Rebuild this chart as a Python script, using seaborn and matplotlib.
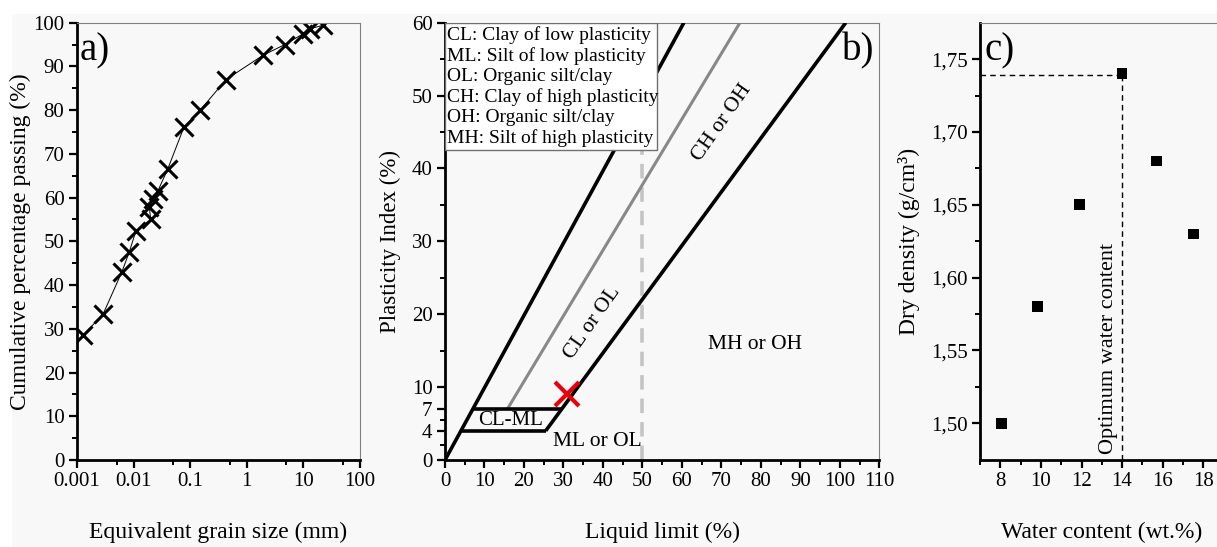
import numpy as np
import pandas as pd
import seaborn as sns
import matplotlib.pyplot as plt
from matplotlib.patches import Rectangle
from matplotlib.ticker import FixedLocator, NullFormatter

sns.set_theme(style='ticks')
plt.rcParams['font.family'] = ['Liberation Serif', 'DejaVu Serif']
plt.rcParams['axes.unicode_minus'] = False
plt.rcParams['text.color'] = 'black'
plt.rcParams['axes.labelcolor'] = 'black'

# a) grain size distribution
grain_size = [0.0013, 0.0029, 0.0062, 0.0084, 0.011, 0.02, 0.019, 0.022, 0.027,
              0.04, 0.078, 0.15, 0.43, 1.96, 4.7, 10, 13, 22]
passing = [28.6, 33.4, 43.0, 47.6, 52.4, 55.0, 57.8, 59.6, 61.6,
           66.5, 76.2, 80.0, 87.0, 92.6, 95.0, 97.5, 98.6, 99.4]

# b) plasticity chart
upper_ll = [0, 60.5]
upper_pi = [0, 60]
u_line_ll = [15.8, 74.7]
u_line_pi = [7, 60]
a_line_ll = [25.5, 101.5]
a_line_pi = [4, 60]
clml_ll = [4, 25.5]
clml_pi = [4, 4]
clml_top_ll = [7, 29.6]
clml_top_pi = [7, 7]
sample_ll = [31]
sample_pi = [9]
legend_lines = ['CL: Clay of low plasticity', 'ML: Silt of low plasticity',
                'OL: Organic silt/clay', 'CH: Clay of high plasticity',
                'OH: Organic silt/clay', 'MH: Silt of high plasticity']
b_yticks = [0, 4, 7, 10, 20, 30, 40, 50, 60]

# c) compaction
water = [8.05, 9.85, 11.9, 14.0, 15.7, 17.5]
density = [1.50, 1.58, 1.65, 1.74, 1.68, 1.63]
optimum_w = 14.0
optimum_rho = 1.739
c_yticks = [1.50, 1.55, 1.60, 1.65, 1.70, 1.75]
c_yticklabels = ['1,50', '1,55', '1,60', '1,65', '1,70', '1,75']

W, H = 1217, 547
fig = plt.figure(figsize=(W / 100, H / 100), dpi=100, facecolor='white')
fig.patches.append(Rectangle((12 / W, 0), 1, 1 - 14 / H, transform=fig.transFigure,
                             fc='#f8f8f8', ec='none', zorder=-10))

bottom = 1 - 460 / H
height = (460 - 22.7) / H
ax_a = fig.add_axes([77 / W, bottom, 283 / W, height])
ax_b = fig.add_axes([445 / W, bottom, 434.3 / W, height])
ax_c = fig.add_axes([980 / W, bottom, 243.6 / W, height])

tick_fs = 15
label_fs = 17
xpad = 22


def style(ax):
    ax.set_facecolor('none')
    for s in ['left', 'bottom']:
        ax.spines[s].set_linewidth(2)
        ax.spines[s].set_color('black')
    for s in ['top', 'right']:
        ax.spines[s].set_linewidth(0.8)
        ax.spines[s].set_color('#808080')
    ax.tick_params(which='major', direction='out', length=6, width=1.6,
                   labelsize=tick_fs, colors='black', pad=3)
    ax.tick_params(which='minor', direction='out', length=3.5, width=1.4, colors='black')
    ax.grid(False)


# ---- panel a
df_a = pd.DataFrame({'size': grain_size, 'passing': passing})
sns.lineplot(data=df_a, x='size', y='passing', ax=ax_a, sort=False, color='black',
             lw=0.7, marker='x', markersize=13, markeredgewidth=2.2,
             markeredgecolor='black', estimator=None)
ax_a.set_xscale('log')
ax_a.set_xlim(0.001, 100)
ax_a.set_ylim(0, 100)
ax_a.set_xticks([0.001, 0.01, 0.1, 1, 10, 100])
ax_a.set_xticklabels(['0.001', '0.01', '0.1', '1', '10', '100'])
ax_a.xaxis.set_minor_locator(FixedLocator([0.005, 0.05, 0.5, 5, 50]))
ax_a.xaxis.set_minor_formatter(NullFormatter())
ax_a.set_yticks(np.arange(0, 101, 10))
ax_a.yaxis.set_minor_locator(FixedLocator(np.arange(5, 100, 10)))
ax_a.set_xlabel('Equivalent grain size (mm)', fontsize=label_fs, labelpad=xpad)
ax_a.set_ylabel('Cumulative percentage passing (%)', fontsize=label_fs, labelpad=2)
style(ax_a)
ax_a.text(0.008, 0.935, 'a)', transform=ax_a.transAxes, fontsize=28, va='center', ha='left')

# ---- panel b
ax_b.axvline(50, color='#c4c4c4', lw=2.6, dashes=(4, 2.5), zorder=1)
ax_b.plot(u_line_ll, u_line_pi, color='#888888', lw=2.2, zorder=2)
for xs, ys in [(upper_ll, upper_pi), (a_line_ll, a_line_pi),
               (clml_ll, clml_pi), (clml_top_ll, clml_top_pi)]:
    ax_b.plot(xs, ys, color='black', lw=2.6, zorder=3, solid_capstyle='butt')
ax_b.plot(sample_ll, sample_pi, 'x', color='#e8000b', markersize=17,
          markeredgewidth=3, zorder=5)
ax_b.add_patch(Rectangle((0, 42.5), 53.8, 17.5, fc='white', ec='#707070', lw=1, zorder=4))
for i, line in enumerate(legend_lines):
    ax_b.text(0.6, 58.3 - i * 2.82, line, fontsize=14, va='center', ha='left', zorder=6)
ax_b.text(37.3, 18.8, 'CL or OL', fontsize=15.5, rotation=55, ha='center', va='center')
ax_b.text(70.2, 46.2, 'CH or OH', fontsize=15.5, rotation=55, ha='center', va='center')
ax_b.text(78.5, 15.8, 'MH or OH', fontsize=15.5, ha='center', va='center')
ax_b.text(38.5, 2.6, 'ML or OL', fontsize=15.5, ha='center', va='center')
ax_b.text(16.5, 5.4, 'CL-ML', fontsize=15, ha='center', va='center')
ax_b.text(0.99, 0.935, 'b)', transform=ax_b.transAxes, fontsize=28, va='center', ha='right')
ax_b.set_xlim(0, 110)
ax_b.set_ylim(0, 60)
ax_b.set_xticks(np.arange(0, 111, 10))
ax_b.xaxis.set_minor_locator(FixedLocator(np.arange(5, 110, 10)))
ax_b.set_yticks(b_yticks)
ax_b.yaxis.set_minor_locator(FixedLocator([2, 5.5, 15, 25, 35, 45, 55]))
ax_b.set_xlabel('Liquid limit (%)', fontsize=label_fs, labelpad=xpad)
ax_b.set_ylabel('Plasticity Index (%)', fontsize=16.5, labelpad=8)
style(ax_b)

# ---- panel c
df_c = pd.DataFrame({'water': water, 'density': density})
ax_c.plot([7, optimum_w], [optimum_rho, optimum_rho], color='black', lw=1, dashes=(4, 3))
ax_c.plot([optimum_w, optimum_w], [1.4748, optimum_rho], color='black', lw=1, dashes=(4, 3))
sns.scatterplot(data=df_c, x='water', y='density', ax=ax_c, marker='s', s=60,
                color='black', edgecolor='none', zorder=5)
ax_c.text(13.32, 1.479, 'Optimum water content', fontsize=16, rotation=90,
          ha='center', va='bottom')
ax_c.text(0.02, 0.935, 'c)', transform=ax_c.transAxes, fontsize=28, va='center', ha='left')
ax_c.set_xlim(7, 19)
ax_c.set_ylim(1.4748, 1.775)
ax_c.set_xticks(np.arange(8, 19, 2))
ax_c.xaxis.set_minor_locator(FixedLocator(np.arange(7, 19, 2)))
ax_c.set_yticks(c_yticks)
ax_c.set_yticklabels(c_yticklabels)
ax_c.yaxis.set_minor_locator(FixedLocator(np.arange(1.525, 1.775, 0.05)))
ax_c.set_xlabel('Water content (wt.%)', fontsize=label_fs, labelpad=xpad)
ax_c.set_ylabel('Dry density (g/cm³)', fontsize=label_fs, labelpad=8)
style(ax_c)

fig.savefig('out.png', dpi=100, facecolor=fig.get_facecolor())
